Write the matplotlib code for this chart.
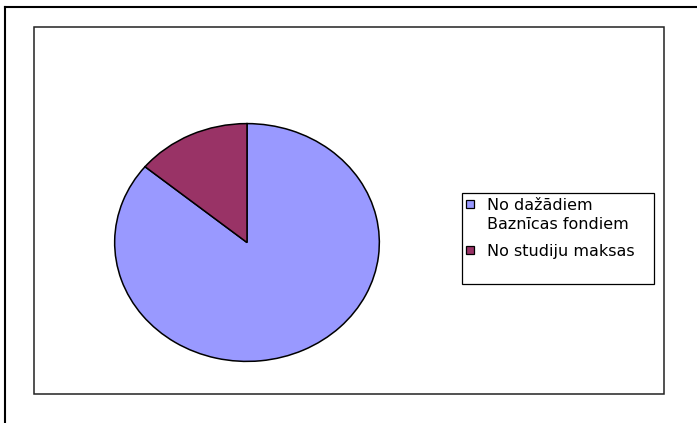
import matplotlib
matplotlib.use("Agg")
import matplotlib.pyplot as plt
from matplotlib.patches import Rectangle
from matplotlib.lines import Line2D

labels = ["No dažādiem\nBaznīcas fondiem", "No studiju maksas"]
values = [86, 14]
colors = ["#9999FF", "#993366"]

W, H = 697, 423
fig = plt.figure(figsize=(W / 100, H / 100), dpi=100)
fig.patch.set_facecolor("white")


def fx(x):
    return x / W


def fy(y):
    return 1 - y / H


# outer chart border (only top and left visible in the crop)
fig.add_artist(Line2D([fx(5), fx(5)], [fy(7), fy(430)], color="black", lw=1.5,
                      transform=fig.transFigure))
fig.add_artist(Line2D([fx(5), fx(700)], [fy(7), fy(7)], color="black", lw=1.5,
                      transform=fig.transFigure))

# plot area border
fig.add_artist(Rectangle((fx(34), fy(394)), fx(664) - fx(34), fy(27) - fy(394),
                         fill=False, edgecolor="#222222", lw=1.1,
                         transform=fig.transFigure))

# pie (elliptical, as drawn)
left, right, top, bottom = 114, 380, 123, 362
ax = fig.add_axes([fx(left), fy(bottom), fx(right) - fx(left), fy(top) - fy(bottom)])
ax.pie(values, colors=colors, startangle=90, counterclock=False,
       wedgeprops=dict(edgecolor="black", linewidth=1.1))
ax.set_aspect("auto")
ax.set_xlim(-1.005, 1.005)
ax.set_ylim(-1.005, 1.005)
ax.axis("off")

# legend
fig.add_artist(Rectangle((fx(462), fy(284)), fx(654) - fx(462), fy(193) - fy(284),
                         fill=False, edgecolor="black", lw=0.9,
                         transform=fig.transFigure))
marker_tops = [200, 246]
last_baselines = [229, 256]
for lab, col, mt, bl in zip(labels, colors, marker_tops, last_baselines):
    fig.add_artist(Rectangle((fx(466), fy(mt + 8)), fx(8), 8 / H,
                             facecolor=col, edgecolor="black", lw=0.9,
                             transform=fig.transFigure))
    fig.text(fx(487), fy(bl), lab, ha="left", va="baseline",
             fontsize=11.5, family="DejaVu Sans", color="black",
             linespacing=1.34)

fig.savefig("out.png", dpi=100)
